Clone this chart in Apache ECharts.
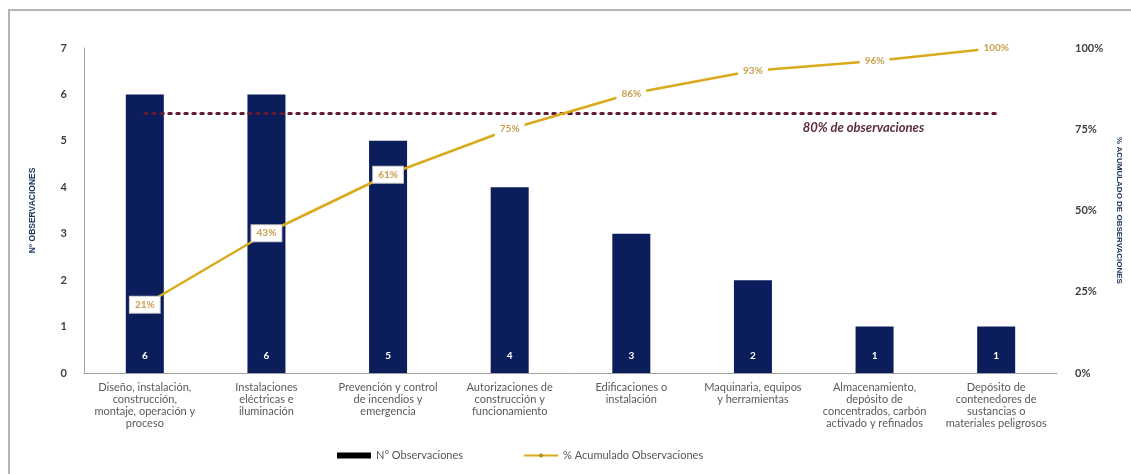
<!DOCTYPE html>
<html>
<head>
<meta charset="utf-8">
<script src="https://cdn.jsdelivr.net/npm/echarts@6/dist/echarts.min.js"></script>
<style>
  html, body { margin: 0; padding: 0; background: #fff; }
  #chart { width: 1131px; height: 474px; }
</style>
</head>
<body>
<div id="chart"></div>
<script>
// Pareto chart of observations by category
const categories = [
  'Diseño, instalación,\nconstrucción,\nmontaje, operación y\nproceso',
  'Instalaciones\neléctricas e\niluminación',
  'Prevención y control\nde incendios y\nemergencia',
  'Autorizaciones de\nconstrucción y\nfuncionamiento',
  'Edificaciones o\ninstalación',
  'Maquinaria, equipos\ny herramientas',
  'Almacenamiento,\ndepósito de\nconcentrados, carbón\nactivado y refinados',
  'Depósito de\ncontenedores de\nsustancias o\nmateriales peligrosos'
];
const observaciones = [6, 6, 5, 4, 3, 2, 1, 1];
const acumulado = [21, 43, 61, 75, 86, 93, 96, 100];
const umbral = 80;

const NAVY = '#0b1d5b';
const GOLD = '#d8aa1c';
const FONT = 'Lato, "Open Sans", sans-serif';
const NARROW = '"Liberation Sans Narrow", "Liberation Sans", sans-serif';

const chart = echarts.init(document.getElementById('chart'), null, { renderer: 'canvas' });

const lineData = acumulado.map((v, i) => ({
  value: v,
  label: i < 3 ? { borderColor: '#c8c8c8', borderWidth: 1 } : {}
}));

chart.setOption({
  animation: false,
  backgroundColor: '#fff',
  graphic: [{
    type: 'polyline',
    shape: { points: [[9, 474], [9, 10], [1131, 10]] },
    style: { stroke: '#b4b4b4', lineWidth: 2, fill: null },
    silent: true
  }],
  legend: {
    left: 332,
    top: 445,
    itemGap: 60,
    itemWidth: 34,
    itemHeight: 6,
    textStyle: { fontFamily: FONT, fontSize: 11, color: '#555' },
    data: [
      { name: 'N° Observaciones', icon: 'rect', itemStyle: { color: '#000' } },
      { name: '% Acumulado Observaciones' }
    ]
  },
  grid: { left: 84, right: 64, top: 48, bottom: 101, containLabel: false },
  xAxis: {
    type: 'category',
    data: categories,
    axisLine: { show: true, lineStyle: { color: '#a0a0a0', width: 1 } },
    axisTick: { show: false },
    axisLabel: {
      interval: 0,
      margin: 8,
      fontFamily: FONT,
      fontSize: 11,
      color: '#5a5a5a',
      lineHeight: 12,
      align: 'center'
    }
  },
  yAxis: [{
    type: 'value',
    min: 0,
    max: 7,
    interval: 1,
    name: 'N° OBSERVACIONES',
    nameLocation: 'middle',
    nameRotate: 90,
    nameGap: 47,
    nameTextStyle: { fontFamily: NARROW, fontSize: 8.5, fontWeight: 'bold', color: '#1f3864' },
    axisLine: { show: true, lineStyle: { color: '#a0a0a0', width: 1 } },
    axisTick: { show: false },
    splitLine: { show: false },
    axisLabel: { margin: 17, fontFamily: FONT, fontSize: 11, fontWeight: 'bold', color: '#404040' }
  }, {
    type: 'value',
    min: 0,
    max: 100,
    interval: 25,
    position: 'right',
    name: '% ACUMULADO DE OBSERVACIONES',
    nameLocation: 'middle',
    nameRotate: -90,
    nameGap: 58,
    nameTextStyle: { fontFamily: NARROW, fontSize: 8, fontWeight: 'bold', color: '#1f3864', padding: [0, 0, 0, 0] },
    axisLine: { show: false },
    axisTick: { show: false },
    splitLine: { show: false },
    axisLabel: { margin: 18, formatter: '{value}%', fontFamily: FONT, fontSize: 11, fontWeight: 'bold', color: '#404040' }
  }],
  series: [{
    name: 'N° Observaciones',
    type: 'bar',
    data: observaciones,
    barWidth: 38,
    itemStyle: { color: NAVY },
    label: {
      show: true,
      position: 'insideBottom',
      distance: 12,
      color: '#fff',
      fontFamily: FONT,
      fontSize: 10,
      fontWeight: 'bold'
    }
  }, {
    name: '% Acumulado Observaciones',
    type: 'line',
    yAxisIndex: 1,
    data: lineData,
    symbol: 'diamond',
    symbolSize: 6,
    itemStyle: { color: '#b8860b' },
    lineStyle: { color: GOLD, width: 2.5 },
    z: 5,
    label: {
      show: true,
      position: 'inside',
      formatter: '{c}%',
      backgroundColor: '#fff',
      padding: [3, 5],
      fontFamily: FONT,
      fontSize: 10,
      fontWeight: 'bold',
      color: '#c9a050'
    },
    markLine: {
      silent: true,
      symbol: 'none',
      z: 3,
      lineStyle: { type: [2.5, 5.5], width: 3, color: '#5e1a33', cap: 'round' },
      label: {
        show: true,
        position: 'insideEndBottom',
        distance: [72, 8],
        formatter: '80% de observaciones',
        fontFamily: FONT,
        fontSize: 13,
        fontStyle: 'italic',
        fontWeight: 'bold',
        color: '#5b2c3a'
      },
      data: [[{ coord: [0, umbral] }, { coord: [categories.length - 1, umbral] }]]
    }
  }]
});
</script>
</body>
</html>
